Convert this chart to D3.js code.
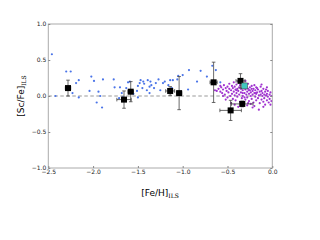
<!DOCTYPE html>
<html>
<head>
<meta charset="utf-8">
<script src="https://cdn.jsdelivr.net/npm/d3@7"></script>
<style>
  body { margin: 0; background: #fff; }
  text { font-family: "DejaVu Sans", sans-serif; }
</style>
</head>
<body>
<script>
// blue field stars [Fe/H], [Sc/Fe]
var blueStars = [
  [-2.46, 0.58], [-2.42, 0.0], [-2.30, 0.34], [-2.25, 0.34], [-2.19, 0.18], [-2.16, 0.22],
  [-2.16, -0.02], [-2.23, 0.04], [-2.02, 0.27], [-1.99, 0.21], [-2.04, 0.07], [-1.96, -0.09],
  [-1.94, 0.06], [-1.92, 0.0], [-1.90, -0.16], [-1.89, 0.23], [-1.77, 0.23], [-1.76, 0.12],
  [-1.70, 0.12], [-1.68, 0.04], [-1.63, 0.11], [-1.61, 0.19], [-1.59, 0.20], [-1.51, 0.07],
  [-1.50, 0.14], [-1.48, 0.18], [-1.47, 0.22], [-1.45, 0.11], [-1.44, 0.20], [-1.43, 0.17],
  [-1.40, 0.08], [-1.39, 0.22], [-1.37, 0.13], [-1.36, 0.20], [-1.35, 0.15], [-1.37, 0.04],
  [-1.30, 0.18], [-1.27, 0.23], [-1.25, 0.08], [-1.22, 0.18], [-1.20, 0.20], [-1.16, 0.15],
  [-1.14, 0.22], [-1.11, 0.22], [-1.06, 0.23], [-1.05, 0.28], [-1.00, 0.29], [-0.94, 0.09],
  [-0.93, 0.36], [-0.84, 0.20], [-0.80, 0.35], [-0.73, 0.27], [-0.67, 0.42], [-0.63, 0.36],
  [-0.58, 0.19], [-1.50, -0.02], [-1.55, 0.03], [-1.71, -0.03], [-1.12, 0.11], [-1.32, 0.11],
  [-1.67, -0.02]
];

// purple disc stars
var discStars = [
  [-0.64,0.08],[-0.62,0.07],[-0.6,0.1],[-0.58,0.06],[-0.57,0.12],[-0.56,0.04],[-0.55,0.09],
  [-0.54,0.15],[-0.53,0.02],[-0.52,0.11],[-0.51,0.07],[-0.5,0.13],[-0.5,-0.02],[-0.49,0.05],
  [-0.48,0.17],[-0.48,0.1],[-0.47,0.0],[-0.46,0.08],[-0.45,0.14],[-0.45,0.03],[-0.44,-0.04],
  [-0.44,0.11],[-0.43,0.19],[-0.43,0.06],[-0.42,0.01],[-0.42,0.13],[-0.41,0.09],[-0.41,-0.06],
  [-0.4,0.16],[-0.4,0.04],[-0.39,0.1],[-0.39,-0.01],[-0.38,0.07],[-0.38,0.2],[-0.37,0.12],
  [-0.37,0.02],[-0.36,-0.08],[-0.36,0.15],[-0.35,0.05],[-0.35,0.1],[-0.34,-0.03],[-0.34,0.18],
  [-0.33,0.08],[-0.33,0.0],[-0.32,0.12],[-0.32,-0.1],[-0.31,0.04],[-0.31,0.16],[-0.3,0.09],
  [-0.3,-0.05],[-0.29,0.02],[-0.29,0.13],[-0.28,0.06],[-0.28,-0.02],[-0.27,0.1],[-0.27,0.17],
  [-0.26,0.03],[-0.26,-0.07],[-0.25,0.08],[-0.25,0.12],[-0.24,0.0],[-0.24,0.05],[-0.23,0.14],
  [-0.23,-0.04],[-0.22,0.07],[-0.22,0.02],[-0.21,0.1],[-0.21,-0.09],[-0.2,0.04],[-0.2,0.15],
  [-0.19,-0.01],[-0.19,0.08],[-0.18,0.03],[-0.18,-0.06],[-0.17,0.11],[-0.17,0.05],[-0.16,-0.03],
  [-0.16,0.09],[-0.15,0.01],[-0.15,-0.19],[-0.14,0.06],[-0.14,-0.1],[-0.13,0.02],[-0.13,0.13],
  [-0.12,-0.05],[-0.12,0.07],[-0.11,0.0],[-0.11,0.04],[-0.1,-0.08],[-0.1,0.1],[-0.09,0.02],
  [-0.09,-0.03],[-0.08,0.06],[-0.08,-0.12],[-0.07,0.01],[-0.07,0.09],[-0.06,-0.06],[-0.06,0.03],
  [-0.05,-0.01],[-0.05,0.07],[-0.04,-0.09],[-0.03,0.02],[-0.03,-0.04],[-0.02,0.05],[-0.02,-0.12],
  [-0.01,0.0],[-0.01,-0.07],[-0.46,-0.1],[-0.42,-0.12],[-0.38,-0.15],[-0.34,-0.14],[-0.28,-0.13],
  [-0.24,-0.11],[-0.2,-0.14],[-0.52,-0.05],[-0.55,0.0],[-0.58,0.14],[-0.36,0.22],[-0.3,0.21],
  [-0.27,-0.1],[-0.22,-0.16],[-0.18,0.12],[-0.12,0.16],[-0.06,0.12],[-0.1,-0.15],[-0.4,0.08],
  [-0.33,0.04],[-0.26,0.08],[-0.19,0.04],[-0.31,-0.02],[-0.23,0.1]
];

// cluster means: feh, scfe, xerr, yerr
var clusters = [
  [-2.28, 0.11, 0.03, 0.11],
  [-1.655, -0.05, 0.08, 0.12],
  [-1.58, 0.06, 0.03, 0.14],
  [-1.14, 0.07, 0.05, 0.06],
  [-1.04, 0.04, 0.03, 0.23],
  [-0.655, 0.19, 0.04, 0.28],
  [-0.355, 0.21, 0.05, 0.10],
  [-0.335, -0.11, 0.12, 0.04],
  [-0.465, -0.20, 0.12, 0.14]
];
var cyanStar = [[-0.31, 0.14]];

var xTicks = [-2.5, -2.0, -1.5, -1.0, -0.5, 0.0];
var yTicks = [-1.0, -0.5, 0.0, 0.5, 1.0];

var width = 320, height = 240;
var pLeft = 48.3, pRight = 272.3, pTop = 24, pBottom = 168;

var svg = d3.select("body").append("svg")
  .attr("width", width)
  .attr("height", height);

var x = d3.scaleLinear().domain([-2.5, 0]).range([pLeft, pRight]);
var y = d3.scaleLinear().domain([-1, 1]).range([pBottom, pTop]);

var fmt = d => d3.format(".1f")(d).replace("-", "\u2212");

// zero line
svg.append("line")
  .attr("x1", x(-2.5)).attr("x2", x(0))
  .attr("y1", y(0)).attr("y2", y(0))
  .attr("stroke", "#999")
  .attr("stroke-width", 1)
  .attr("stroke-dasharray", "3.5,2.5");

svg.append("g").selectAll("circle")
  .data(blueStars).enter().append("circle")
  .attr("cx", d => x(d[0])).attr("cy", d => y(d[1]))
  .attr("r", 1.1)
  .attr("fill", "#4a74e8");

svg.append("g").selectAll("circle")
  .data(discStars).enter().append("circle")
  .attr("cx", d => x(d[0])).attr("cy", d => y(d[1]))
  .attr("r", 1.1)
  .attr("fill", "#a033d0");

// error bars
var eb = svg.append("g").attr("stroke", "#444").attr("stroke-width", 0.8);
clusters.forEach(d => {
  var cx = x(d[0]), cy = y(d[1]);
  eb.append("line").attr("x1", x(d[0] - d[2])).attr("x2", x(d[0] + d[2])).attr("y1", cy).attr("y2", cy);
  eb.append("line").attr("x1", cx).attr("x2", cx).attr("y1", y(d[1] - d[3])).attr("y2", y(d[1] + d[3]));
  [d[0] - d[2], d[0] + d[2]].forEach(v => {
    eb.append("line").attr("x1", x(v)).attr("x2", x(v)).attr("y1", cy - 1.8).attr("y2", cy + 1.8);
  });
  [d[1] - d[3], d[1] + d[3]].forEach(v => {
    eb.append("line").attr("x1", cx - 1.8).attr("x2", cx + 1.8).attr("y1", y(v)).attr("y2", y(v));
  });
});

var sq = 6;
svg.append("g").selectAll("rect")
  .data(clusters).enter().append("rect")
  .attr("x", d => x(d[0]) - sq / 2).attr("y", d => y(d[1]) - sq / 2)
  .attr("width", sq).attr("height", sq)
  .attr("fill", "#000");

svg.append("g").selectAll("rect")
  .data(cyanStar).enter().append("rect")
  .attr("x", d => x(d[0]) - sq / 2).attr("y", d => y(d[1]) - sq / 2)
  .attr("width", sq).attr("height", sq)
  .attr("fill", "#40c8c0")
  .attr("stroke", "#333").attr("stroke-width", 0.5);

// frame
svg.append("rect")
  .attr("x", pLeft).attr("y", pTop)
  .attr("width", pRight - pLeft).attr("height", pBottom - pTop)
  .attr("fill", "none")
  .attr("stroke", "#aaa")
  .attr("stroke-width", 1);

var xAxis = svg.append("g")
  .attr("transform", "translate(0," + pBottom + ")")
  .call(d3.axisBottom(x).tickValues(xTicks).tickFormat(fmt).tickSize(-2).tickPadding(2));
var yAxis = svg.append("g")
  .attr("transform", "translate(" + pLeft + ",0)")
  .call(d3.axisLeft(y).tickValues(yTicks).tickFormat(fmt).tickSize(-2).tickPadding(2));
[xAxis, yAxis].forEach(a => {
  a.select(".domain").remove();
  a.selectAll(".tick line").attr("stroke", "#888");
  a.selectAll("text").attr("font-size", 6).attr("fill", "#222")
    .attr("font-family", "DejaVu Sans");
});
svg.append("g").attr("transform", "translate(" + pRight + ",0)")
  .call(d3.axisRight(y).tickValues(yTicks).tickFormat("").tickSize(-2))
  .call(g => g.select(".domain").remove())
  .selectAll(".tick line").attr("stroke", "#888");

// labels
var xl = svg.append("text")
  .attr("x", 160).attr("y", 196)
  .attr("text-anchor", "middle")
  .attr("font-size", 9);
xl.append("tspan").text("[Fe/H]");
xl.append("tspan").attr("font-size", 6).attr("dy", 2)
  .attr("font-family", "DejaVu Serif").text("ILS");

var yl = svg.append("text")
  .attr("transform", "translate(24,96) rotate(-90)")
  .attr("text-anchor", "middle")
  .attr("font-size", 9);
yl.append("tspan").text("[Sc/Fe]");
yl.append("tspan").attr("font-size", 6).attr("dy", 2)
  .attr("font-family", "DejaVu Serif").text("ILS");
</script>
</body>
</html>
